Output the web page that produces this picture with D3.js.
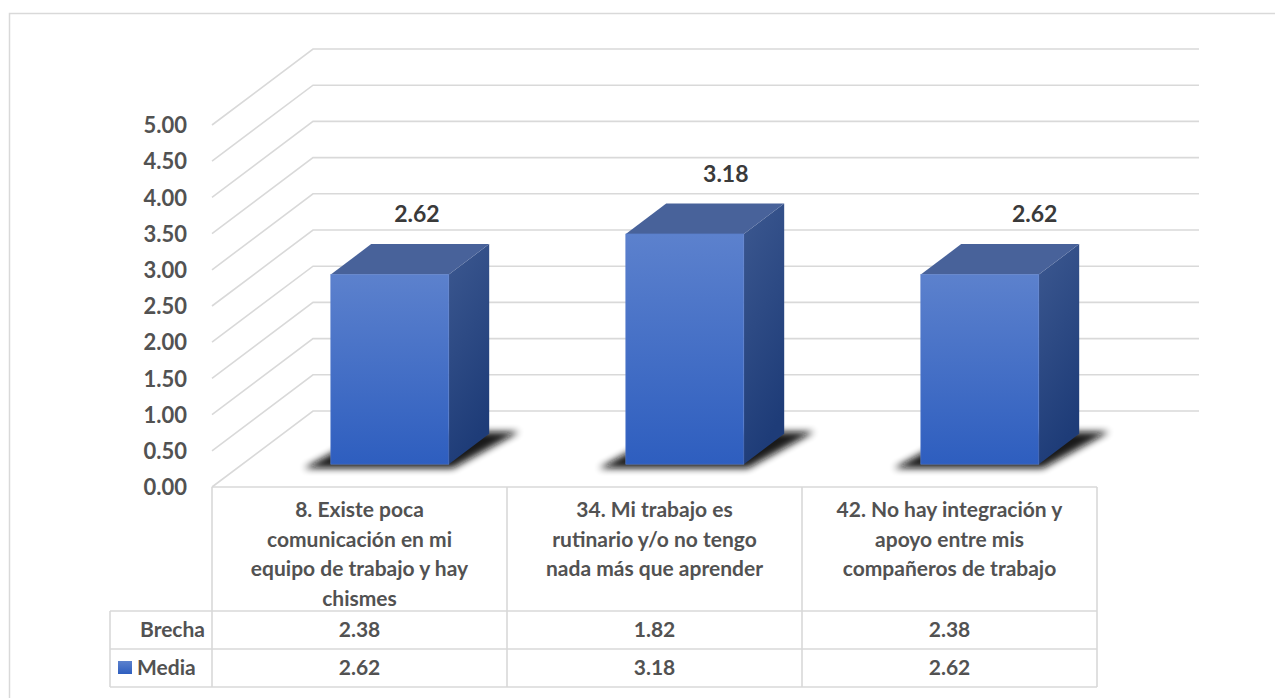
<!DOCTYPE html>
<html>
<head>
<meta charset="utf-8">
<script src="https://cdn.jsdelivr.net/npm/d3@7"></script>
<style>
  html, body { margin: 0; padding: 0; background: #ffffff; }
  svg { display: block; }
  text { font-family: Lato, "Open Sans", sans-serif; font-weight: 700; }
</style>
</head>
<body>
<svg id="chart" width="1275" height="698"></svg>
<script>
// ---- data ----
const categories = [
  "8. Existe poca comunicación en mi equipo de trabajo y hay chismes",
  "34. Mi trabajo es rutinario y/o no tengo nada más que aprender",
  "42. No hay integración y apoyo entre mis compañeros de trabajo"
];
const categoryLines = [
  ["8. Existe poca", "comunicación en mi", "equipo de trabajo y hay", "chismes"],
  ["34. Mi trabajo es", "rutinario y/o no tengo", "nada más que aprender"],
  ["42. No hay integración y", "apoyo entre mis", "compañeros de trabajo"]
];
const mediaValues = [2.62, 3.18, 2.62];
const brechaValues = [2.38, 1.82, 2.38];
const yTicks = [0, 0.5, 1, 1.5, 2, 2.5, 3, 3.5, 4, 4.5, 5];
const seriesNames = ["Brecha", "Media"];

// ---- layout ----
const svg = d3.select("#chart");
const plotLeft = 212, plotRight = 1097, floorY = 487, topY = 125;
const depthX = 101, depthY = -76;
const x = d3.scaleBand().domain(categories).range([plotLeft, plotRight]).padding(0);
const y = d3.scaleLinear().domain([0, 5]).range([floorY, topY]);
const fmt = d3.format(".2f");
const gridColor = "#d9d9d9";
const textColor = "#525252";

// outer chart border (extends beyond picture on right & bottom)
svg.append("rect").attr("x", 9.5).attr("y", 13.5).attr("width", 1400).attr("height", 800)
  .attr("fill", "none").attr("stroke", gridColor).attr("stroke-width", 1.5);

const defs = svg.append("defs");
const gFront = defs.append("linearGradient").attr("id", "gFront").attr("x1", 0).attr("y1", 0).attr("x2", 0).attr("y2", 1);
gFront.append("stop").attr("offset", "0%").attr("stop-color", "#5c81cd");
gFront.append("stop").attr("offset", "100%").attr("stop-color", "#2e5ebf");
const gSide = defs.append("linearGradient").attr("id", "gSide").attr("x1", 0).attr("y1", 0).attr("x2", 0.3).attr("y2", 1);
gSide.append("stop").attr("offset", "0%").attr("stop-color", "#3c5890");
gSide.append("stop").attr("offset", "100%").attr("stop-color", "#1e3c78");
const blur = defs.append("filter").attr("id", "blur").attr("x", "-50%").attr("y", "-50%").attr("width", "200%").attr("height", "200%");
blur.append("feGaussianBlur").attr("stdDeviation", 3.5);

// gridlines: side wall diagonal + back wall horizontal
const grid = svg.append("g");
yTicks.forEach(t => {
  const yf = y(t);
  const pts = [[plotLeft, yf], [plotLeft + depthX, yf + depthY], [plotRight + depthX + 1, yf + depthY]];
  grid.append("path").attr("d", d3.line()(pts)).attr("fill", "none")
    .attr("stroke", gridColor).attr("stroke-width", 1.6);
});

// y axis labels
const yAxis = d3.axisLeft(y).tickValues(yTicks).tickFormat(fmt).tickSize(0).tickPadding(0);
const ax = svg.append("g").attr("transform", "translate(187,0)").call(yAxis);
ax.select(".domain").remove();
ax.selectAll("text").attr("fill", textColor).attr("font-size", 22)
  .attr("font-family", "Lato, sans-serif").attr("font-weight", 700).attr("dy", "0.35em");

// bars
const bw = x.bandwidth();
const fNear = 0.3, fFar = 0.7;
const barW = bw * 0.4;
const bars = svg.append("g");
categories.forEach((c, i) => {
  const v = mediaValues[i];
  const x0 = x(c) + bw * 0.3 + depthX * fNear;
  const x1 = x0 + barW;
  const yb = y(0) + depthY * fNear;
  const yt = y(v) + depthY * fNear;
  const ddx = depthX * (fFar - fNear), ddy = depthY * (fFar - fNear);
  // shadow
  bars.append("path").attr("d", d3.line()([
    [x0 - 27, yb + 4], [x1 + 4, yb + 4], [x1 + ddx + 30, yb + ddy - 2], [x0 + ddx, yb + ddy - 2]
  ]) + "Z").attr("fill", "#111").attr("opacity", 0.95).attr("filter", "url(#blur)");
  // right side face
  bars.append("path").attr("d", d3.line()([
    [x1, yt], [x1 + ddx, yt + ddy], [x1 + ddx, yb + ddy], [x1, yb]
  ]) + "Z").attr("fill", "url(#gSide)");
  // top face
  bars.append("path").attr("d", d3.line()([
    [x0, yt], [x1, yt], [x1 + ddx, yt + ddy], [x0 + ddx, yt + ddy]
  ]) + "Z").attr("fill", "#48629a");
  // front face
  bars.append("rect").attr("x", x0).attr("y", yt).attr("width", barW).attr("height", yb - yt)
    .attr("fill", "url(#gFront)").attr("stroke", "#5a7fcc").attr("stroke-width", 0.6);
  // value label
  const tc = (x0 + x1 + ddx) / 2;
  svg.append("text").attr("x", tc + 7 + 0.047 * (tc - 411)).attr("y", yt + ddy - 30)
    .attr("dy", "0.35em").attr("text-anchor", "middle").attr("fill", "#3a3a3a")
    .attr("font-size", 23).text(fmt(v));
});

// data table
const table = svg.append("g");
const hTop = floorY, hBot = 611, r1 = 649, r2 = 687, labelLeft = 110;
const line = (x1, y1, x2, y2) => table.append("line").attr("x1", x1).attr("y1", y1).attr("x2", x2).attr("y2", y2)
  .attr("stroke", gridColor).attr("stroke-width", 1.6);
line(plotLeft, hTop, plotRight, hTop);
[hBot, r1, r2].forEach(yy => line(labelLeft, yy, plotRight, yy));
line(labelLeft, hBot, labelLeft, r2);
categories.forEach(c => line(x(c), hTop, x(c), r2));
line(plotRight, hTop, plotRight, r2);

categories.forEach((c, i) => {
  const cx = x(c) + bw / 2;
  categoryLines[i].forEach((ln, k) => {
    table.append("text").attr("x", cx).attr("y", 510 + k * 29.5).attr("dy", "0.35em")
      .attr("text-anchor", "middle").attr("fill", textColor).attr("font-size", 21).text(ln);
  });
  table.append("text").attr("x", cx).attr("y", (hBot + r1) / 2).attr("dy", "0.35em")
    .attr("text-anchor", "middle").attr("fill", textColor).attr("font-size", 21).text(fmt(brechaValues[i]));
  table.append("text").attr("x", cx).attr("y", (r1 + r2) / 2).attr("dy", "0.35em")
    .attr("text-anchor", "middle").attr("fill", textColor).attr("font-size", 21).text(fmt(mediaValues[i]));
});
// row labels
table.append("text").attr("x", 205).attr("y", (hBot + r1) / 2).attr("dy", "0.35em")
  .attr("text-anchor", "end").attr("fill", textColor).attr("font-size", 21).text(seriesNames[0]);
table.append("rect").attr("x", 118).attr("y", 661).attr("width", 14).attr("height", 13).attr("fill", "url(#gFront)");
table.append("text").attr("x", 137).attr("y", (r1 + r2) / 2).attr("dy", "0.35em")
  .attr("text-anchor", "start").attr("fill", textColor).attr("font-size", 21).text(seriesNames[1]);
</script>
</body>
</html>
